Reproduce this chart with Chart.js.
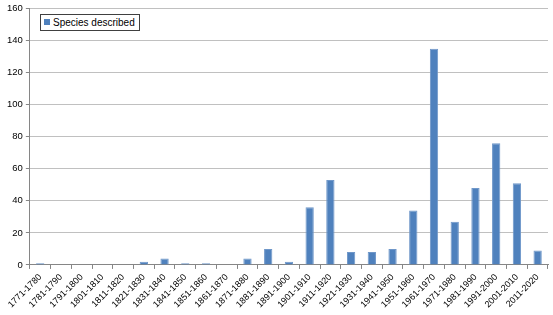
<!DOCTYPE html>
<html>
<head>
<meta charset="utf-8">
<script src="https://cdn.jsdelivr.net/npm/chart.js@4"></script>
<style>
  body { margin: 0; background: #fff; }
  #wrap { position: relative; width: 553px; height: 315px; }
  #legend {
    position: absolute; left: 40px; top: 14px;
    border: 1px solid #404040; background: #fff;
    font: 10px "Liberation Sans", Arial, sans-serif; color: #000;
    padding: 2px 4px 2px 3px; white-space: nowrap;
  }
  #legend span.box {
    display: inline-block; width: 6px; height: 6px; margin-right: 3px;
    vertical-align: 1px;
  }
</style>
</head>
<body>
<div id="wrap">
  <canvas id="chart" width="553" height="315"></canvas>
  <div id="legend"></div>
</div>
<script>
  const decades = ['1771-1780', '1781-1790', '1791-1800', '1801-1810', '1811-1820',
    '1821-1830', '1831-1840', '1841-1850', '1851-1860', '1861-1870', '1871-1880',
    '1881-1890', '1891-1900', '1901-1910', '1911-1920', '1921-1930', '1931-1940',
    '1941-1950', '1951-1960', '1961-1970', '1971-1980', '1981-1990', '1991-2000',
    '2001-2010', '2011-2020'];
  const speciesDescribed = [1, 0, 0, 0, 0, 2, 4, 1, 1, 0, 4, 10, 2, 36, 53, 8, 8, 10, 34,
    135, 27, 48, 76, 51, 9];
  const seriesLabel = 'Species described';
  const yTicks = [0, 20, 40, 60, 80, 100, 120, 140, 160];

  const barColor = '#4f81bd';

  function createChart() {
    const ctx = document.getElementById('chart').getContext('2d');
    new Chart(ctx, {
      type: 'bar',
      data: {
        labels: decades,
        datasets: [{
          label: seriesLabel,
          data: speciesDescribed,
          backgroundColor: barColor,
          borderColor: '#6f97c9',
          borderWidth: 1,
          barPercentage: 0.4,
          categoryPercentage: 1
        }]
      },
      options: {
        responsive: false,
        animation: false,
        layout: { padding: { top: 0, right: 5, left: 4, bottom: 2 } },
        plugins: {
          legend: { display: false },
          tooltip: { enabled: false }
        },
        scales: {
          x: {
            grid: { display: true, drawOnChartArea: false, tickLength: 4, color: '#868686' },
            border: { color: '#868686' },
            ticks: {
              minRotation: 45, maxRotation: 45, autoSkip: false,
              color: '#000', font: { family: 'Liberation Sans', size: 9 }
            }
          },
          y: {
            min: yTicks[0],
            max: yTicks[yTicks.length - 1],
            afterBuildTicks: axis => { axis.ticks = yTicks.map(v => ({ value: v })); },
            grid: { color: '#c0c0c0', tickLength: 4, tickColor: '#868686' },
            border: { color: '#868686' },
            ticks: {
              padding: 3,
              color: '#000', font: { family: 'Liberation Sans', size: 9.5 }
            }
          }
        }
      }
    });

    const legend = document.getElementById('legend');
    const box = document.createElement('span');
    box.className = 'box';
    box.style.background = barColor;
    legend.appendChild(box);
    legend.appendChild(document.createTextNode(seriesLabel));
  }

  document.addEventListener('DOMContentLoaded', createChart);
</script>
</body>
</html>
